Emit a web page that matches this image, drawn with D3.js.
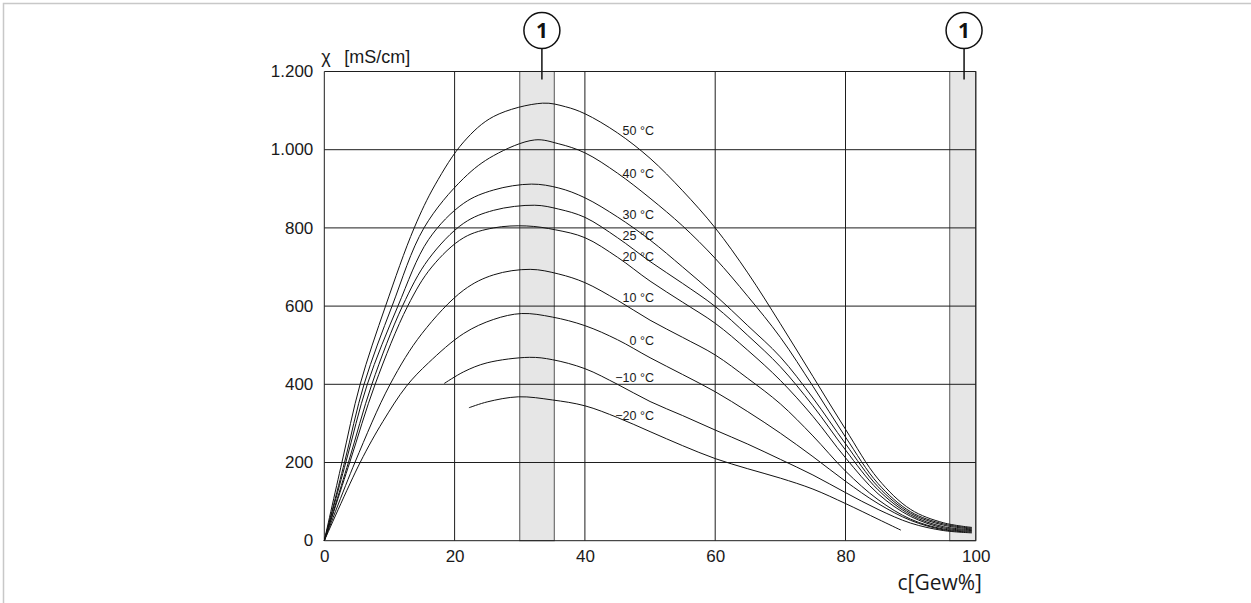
<!DOCTYPE html>
<html>
<head>
<meta charset="utf-8">
<script src="https://cdn.jsdelivr.net/npm/d3@7"></script>
<style>
	body { margin: 0; background: #fff; }
	svg { display: block; }
	.tick-label { font-family: "Liberation Sans", Arial, sans-serif; font-size: 17px; fill: #1a1a1a; }
	.curve-label { font-family: "Liberation Sans", Arial, sans-serif; font-size: 12.5px; fill: #1a1a1a; }
</style>
</head>
<body>
<svg id="chart" width="1251" height="603"></svg>
<script>
// conductivity [mS/cm] over concentration [Gew%], one curve per temperature
const curveNames = ['50 °C', '40 °C', '30 °C', '25 °C', '20 °C', '10 °C', '0 °C', '−10 °C', '−20 °C'];

const c50 = [[0,0],[2.7,200],[5.5,400],[9.4,600],[13.8,800],[17,910],[21.4,1020],[26,1085],[33.5,1119],[37,1110],[40,1092],[45,1043],[50,978],[55,895],[60,800],[65,685],[70,555],[75,420],[80,285],[85,158],[90,80],[95,46],[99.4,34]];
const c40 = [[0,0],[3.1,200],[6.1,400],[10.4,600],[15.3,800],[21.4,927],[26,985],[32.3,1025],[36,1015],[40,992],[45,940],[50,876],[55,805],[60,722],[65,625],[70,520],[75,395],[80,265],[85,146],[90,74],[95,43],[99.4,32]];
const c30 = [[0,0],[3.3,200],[6.6,400],[11.3,600],[16,770],[21.4,863],[26,897],[31.8,912],[36,902],[40,877],[45,828],[50,769],[55,700],[60,628],[65,550],[70,470],[75,365],[80,248],[85,138],[90,70],[95,40],[99.4,30]];
const c25 = [[0,0],[3.7,200],[7.3,400],[12,600],[16,720],[21.4,812],[26,845],[32.3,858],[36,848],[40,827],[45,775],[50,714],[55,658],[60,599],[65,525],[70,445],[75,345],[80,232],[85,130],[90,66],[95,36],[99.4,28]];
const c20 = [[0,0],[3.9,200],[7.8,400],[12.8,600],[16.5,700],[21.4,775],[26,800],[31,805],[35.5,795],[40,775],[45,725],[50,664],[55,610],[60,556],[65,487],[70,410],[75,318],[80,212],[85,120],[90,62],[95,33],[99.4,26]];
const c10 = [[0,0],[4.7,200],[10.1,400],[15,530],[21.4,641],[26,680],[31.6,694],[36,682],[40,660],[45,615],[50,564],[55,520],[60,475],[65,415],[70,350],[75,268],[80,178],[85,105],[90,55],[95,30],[99.4,24]];
const c0 = [[0,0],[5.5,200],[9,305],[12.6,395],[16,455],[21.4,530],[26,566],[30.3,581],[35,572],[40,550],[45,514],[50,468],[55,425],[60,381],[65,330],[70,275],[75,215],[80,152],[85,95],[90,52],[95,28],[99.4,22]];
const cm10 = [[18.4,402],[21.4,432],[25,455],[31.5,469],[35,463],[40,440],[45,400],[50,356],[55,320],[60,283],[65,247],[70,208],[75,168],[80,123],[85,80],[90,45],[95,26],[99.4,20]];
const cm20 = [[22.2,340],[25,355],[29.8,368],[35,360],[40,345],[45,315],[50,279],[55,243],[60,210],[65,184],[70,160],[75,132],[80,95],[85,55],[88.5,27]];
const curves = [c50, c40, c30, c25, c20, c10, c0, cm10, cm20];

// label anchor (right end) for each curve, in data units
const labelY = [1050, 940, 833, 779, 727, 621, 512, 416, 321];
const labelX = 50.6;

const xTicks = [0, 20, 40, 60, 80, 100];
const xTickLabels = ['0', '20', '40', '60', '80', '100'];
const yTicks = [0, 200, 400, 600, 800, 1000, 1200];
const yTickLabels = ['0', '200', '400', '600', '800', '1.000', '1.200'];

// highlighted ranges (1)
const bands = [[30, 35.3], [96, 100]];
const markerX = [33.4, 98.2];

const svg = d3.select('#chart');
const x = d3.scaleLinear().domain([0, 100]).range([324.3, 975.8]);
const y = d3.scaleLinear().domain([0, 1200]).range([540.7, 71.5]);

// outer frame of the figure
svg.append('path')
	.attr('d', 'M3.5,603 V3.5 H1251')
	.attr('fill', 'none')
	.attr('stroke', '#c8c8c8')
	.attr('stroke-width', 1.5);

// grey bands
svg.append('g').selectAll('rect')
	.data(bands)
	.enter().append('rect')
		.attr('x', d => x(d[0]))
		.attr('y', y(1200))
		.attr('width', d => x(d[1]) - x(d[0]))
		.attr('height', y(0) - y(1200))
		.attr('fill', '#e6e6e6')
		.attr('stroke', '#555')
		.attr('stroke-width', 1);

// grid
const grid = svg.append('g').attr('stroke', '#1e1e1e').attr('stroke-width', 1).attr('fill', 'none');
grid.selectAll('.h')
	.data(yTicks)
	.enter().append('line')
		.attr('x1', x(0)).attr('x2', x(100))
		.attr('y1', d => y(d)).attr('y2', d => y(d));
grid.selectAll('.v')
	.data(xTicks)
	.enter().append('line')
		.attr('x1', d => x(d)).attr('x2', d => x(d))
		.attr('y1', y(0)).attr('y2', y(1200));

// axes: labels only
const yAxis = svg.append('g')
	.attr('transform', `translate(${x(0) - 10},0)`)
	.call(d3.axisLeft(y).tickValues(yTicks).tickSize(0).tickPadding(1)
		.tickFormat((d, i) => yTickLabels[i]));
yAxis.select('.domain').remove();
yAxis.selectAll('text').attr('class', 'tick-label').attr('font-family', null).attr('font-size', null).attr('dy', '0.3em');

const xAxis = svg.append('g')
	.attr('transform', `translate(0,${y(0) + 9})`)
	.call(d3.axisBottom(x).tickValues(xTicks).tickSize(0).tickPadding(0)
		.tickFormat((d, i) => xTickLabels[i]));
xAxis.select('.domain').remove();
xAxis.selectAll('text').attr('class', 'tick-label').attr('font-family', null).attr('font-size', null).attr('dy', '0.71em');

// axis titles
const unitTitle = svg.append('g')
	.attr('font-family', '"Liberation Sans", Arial, sans-serif')
	.attr('font-size', 18)
	.attr('fill', '#1a1a1a');
unitTitle.append('text').attr('x', x(0) - 3).attr('y', 63).text('χ');
unitTitle.append('text').attr('x', x(0) + 20).attr('y', 63).text('[mS/cm]');

svg.append('text')
	.attr('x', 982).attr('y', 590)
	.attr('text-anchor', 'end')
	.attr('font-family', '"Open Sans", sans-serif')
	.attr('font-size', 21)
	.attr('fill', '#1a1a1a')
	.text('c[Gew%]');

// curves
const line = d3.line()
	.x(d => x(d[0]))
	.y(d => y(d[1]))
	.curve(d3.curveCatmullRom.alpha(0.5));

svg.append('g').selectAll('path')
	.data(curves)
	.enter().append('path')
		.attr('d', line)
		.attr('fill', 'none')
		.attr('stroke', '#111')
		.attr('stroke-width', 1);

svg.append('g').selectAll('text')
	.data(curveNames)
	.enter().append('text')
		.attr('class', 'curve-label')
		.attr('x', x(labelX))
		.attr('y', (d, i) => y(labelY[i]))
		.attr('dy', '0.35em')
		.attr('text-anchor', 'end')
		.text(d => d);

// numbered markers
const marker = svg.append('g').selectAll('g')
	.data(markerX)
	.enter().append('g')
		.attr('transform', d => `translate(${x(d)},30.5)`);
marker.append('line')
	.attr('x1', 0).attr('x2', 0)
	.attr('y1', 18).attr('y2', 49)
	.attr('stroke', '#111').attr('stroke-width', 1.5);
marker.append('circle')
	.attr('r', 18)
	.attr('fill', '#fff')
	.attr('stroke', '#111')
	.attr('stroke-width', 1.5);
marker.append('text')
	.attr('text-anchor', 'middle')
	.attr('dy', '0.36em')
	.attr('font-family', '"Open Sans", sans-serif')
	.attr('font-weight', 'bold')
	.attr('font-size', 21)
	.attr('fill', '#111')
	.text('1');
</script>
</body>
</html>
